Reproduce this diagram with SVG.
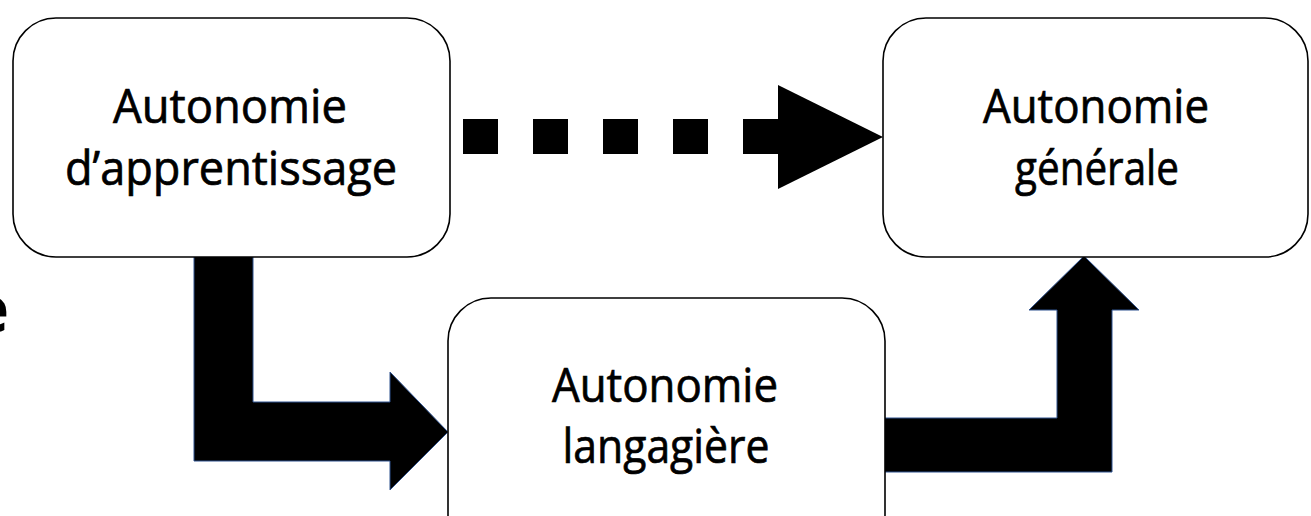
<svg xmlns="http://www.w3.org/2000/svg" width="1311" height="516" viewBox="0 0 1311 516">
<style>
.box{fill:#fff;stroke:#000;stroke-width:1.6}
.lbl{font-family:"Open Sans","Noto Sans","Liberation Sans",sans-serif;font-size:48px;fill:#000;stroke:#000;stroke-width:0.7;text-anchor:middle;font-variant-ligatures:none}
.arr{fill:#000;stroke:#2F528F;stroke-width:1}
.dash{fill:#000}
</style>
<rect width="1311" height="516" fill="#fff"/>
<text x="9" y="332" style="font-family:'Open Sans',sans-serif;font-size:64px;font-weight:bold;text-anchor:end">e</text>
<g id="connectors">
  <path class="arr" d="M194,256 H253 V402 H390 V372 L448,432 L390,490 V461 H194 Z"/>
  <path class="arr" d="M884,418 H1057 V310 H1029 L1084,256 L1139,310 H1112 V472 H884 Z"/>
  <g class="dash">
    <rect x="463" y="119" width="35" height="35"/>
    <rect x="533" y="119" width="35" height="35"/>
    <rect x="603" y="119" width="35" height="35"/>
    <rect x="673" y="119" width="35" height="35"/>
    <rect x="743" y="119" width="35" height="35"/>
    <path d="M778,85 L883,137 L778,189 Z"/>
  </g>
</g>
<g id="node-apprentissage">
  <rect class="box" x="13" y="18" width="437" height="239" rx="43"/>
  <text class="lbl" x="230" y="123" textLength="234" lengthAdjust="spacingAndGlyphs">Autonomie</text>
  <text class="lbl" x="231" y="185" textLength="332" lengthAdjust="spacingAndGlyphs">d’apprentissage</text>
</g>
<g id="node-generale">
  <rect class="box" x="883" y="18" width="425" height="239" rx="43"/>
  <text class="lbl" x="1096" y="123" textLength="226" lengthAdjust="spacingAndGlyphs">Autonomie</text>
  <text class="lbl" x="1097" y="185" textLength="164" lengthAdjust="spacingAndGlyphs">générale</text>
</g>
<g id="node-langagiere">
  <rect class="box" x="448" y="298" width="437" height="260" rx="43"/>
  <text class="lbl" x="665" y="402" textLength="226" lengthAdjust="spacingAndGlyphs">Autonomie</text>
  <text class="lbl" x="666" y="463" textLength="207" lengthAdjust="spacingAndGlyphs">langagière</text>
</g>
</svg>
